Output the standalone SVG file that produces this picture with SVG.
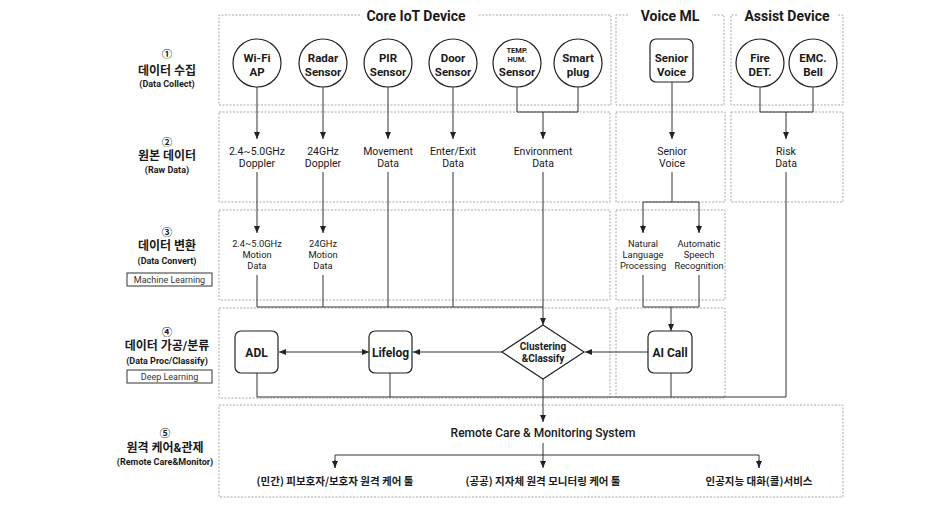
<svg xmlns="http://www.w3.org/2000/svg" width="950" height="506" viewBox="0 0 950 506">
<style>
text{font-family:Roboto,"Liberation Sans",sans-serif;fill:#1a1a1a;text-anchor:middle}
.k{font-family:"Noto Sans CJK KR","Noto Sans",sans-serif}
.lk{font-family:Roboto,"Noto Sans CJK KR",sans-serif}
.panel{fill:none;stroke:#a8a8a8;stroke-width:1;stroke-dasharray:2 1.5}
.node{fill:#fff;stroke:#222;stroke-width:1.2}
.c{fill:none;stroke:#333;stroke-width:1}
.t{font-size:14px;font-weight:bold}
.n{font-size:11.5px;font-weight:bold}
.s{font-size:7.5px;font-weight:bold}
.d2{font-size:10.5px}
.d3{font-size:9.3px}
.num{font-size:10.5px;font-weight:bold}
.kr{font-size:12px;font-weight:bold}
.en{font-size:9px;font-weight:bold}
.tag{font-size:9px;fill:#333}
.tagbox{fill:#fff;stroke:#333;stroke-width:1}
.b{font-size:12px;font-weight:bold}
.out{font-size:10.5px;font-weight:bold}
</style>
<defs>
<marker id="ar" markerWidth="7" markerHeight="6" refX="7" refY="3" orient="auto" markerUnits="userSpaceOnUse">
<path d="M0,0 L7,3 L0,6 z" fill="#222"/>
</marker>
<marker id="as" markerWidth="7" markerHeight="6" refX="0" refY="3" orient="auto" markerUnits="userSpaceOnUse">
<path d="M7,0 L0,3 L7,6 z" fill="#222"/>
</marker>
</defs>

<g id="panels">
<path class="panel" d="M360,15 H219 V105 H611 V15 H477"/>
<path class="panel" d="M628,15 H616 V105 H724 V15 H712"/>
<path class="panel" d="M737,15 H731 V105 H843 V15 H838"/>
<rect class="panel" x="219" y="112" width="391" height="90"/>
<rect class="panel" x="616" y="112" width="109" height="90"/>
<rect class="panel" x="731" y="112" width="112" height="90"/>
<rect class="panel" x="219" y="210" width="391" height="90"/>
<rect class="panel" x="616" y="210" width="109" height="90"/>
<rect class="panel" x="219" y="308" width="391" height="90"/>
<rect class="panel" x="616" y="308" width="109" height="90"/>
<rect class="panel" x="219" y="405" width="624" height="92"/>
<text class="t" x="416" y="21">Core IoT Device</text>
<text class="t" x="670" y="21">Voice ML</text>
<text class="t" x="787" y="21">Assist Device</text>
</g>

<g id="row-labels">
<text class="num lk" x="167" y="57.5">①</text>
<text class="kr lk" x="167" y="74.5">데이터 수집</text>
<text class="en" x="167" y="86.5">(Data Collect)</text>
<text class="num lk" x="167" y="145.5">②</text>
<text class="kr lk" x="167" y="160">원본 데이터</text>
<text class="en" x="167" y="172.5">(Raw Data)</text>
<text class="num lk" x="167" y="236">③</text>
<text class="kr lk" x="167" y="250">데이터 변환</text>
<text class="en" x="167" y="263.5">(Data Convert)</text>
<rect class="tagbox" x="127" y="273" width="85" height="13"/>
<text class="tag" x="169.5" y="283">Machine Learning</text>
<text class="num lk" x="167" y="336">④</text>
<text class="kr lk" x="167" y="350">데이터 가공/분류</text>
<text class="en" x="167" y="363.5">(Data Proc/Classify)</text>
<rect class="tagbox" x="127" y="370" width="85" height="13"/>
<text class="tag" x="169.5" y="380">Deep Learning</text>
<text class="num lk" x="165" y="436.5">⑤</text>
<text class="kr lk" x="165" y="452">원격 케어&amp;관제</text>
<text class="en" x="165" y="464.5">(Remote Care&amp;Monitor)</text>
</g>

<g id="connectors">
<line class="c" x1="257" y1="87" x2="257" y2="139" marker-end="url(#ar)"/>
<line class="c" x1="323" y1="87" x2="323" y2="139" marker-end="url(#ar)"/>
<line class="c" x1="388" y1="87" x2="388" y2="139" marker-end="url(#ar)"/>
<line class="c" x1="453" y1="87" x2="453" y2="139" marker-end="url(#ar)"/>
<path class="c" d="M517,87 V112 H578 V87"/>
<line class="c" x1="543" y1="112" x2="543" y2="139" marker-end="url(#ar)"/>
<line class="c" x1="672" y1="82" x2="672" y2="139" marker-end="url(#ar)"/>
<path class="c" d="M760,87 V112 H813 V87"/>
<line class="c" x1="786" y1="112" x2="786" y2="139" marker-end="url(#ar)"/>

<line class="c" x1="257" y1="172" x2="257" y2="233" marker-end="url(#ar)"/>
<line class="c" x1="323" y1="172" x2="323" y2="233" marker-end="url(#ar)"/>
<line class="c" x1="388" y1="172" x2="388" y2="307"/>
<line class="c" x1="453" y1="172" x2="453" y2="307"/>
<line class="c" x1="543" y1="172" x2="543" y2="325" marker-end="url(#ar)"/>
<path class="c" d="M672,172 V202 H643 V232"/>
<path class="c" d="M672,202 H699 V232"/>
<line class="c" x1="643" y1="225" x2="643" y2="233" marker-end="url(#ar)"/>
<line class="c" x1="699" y1="225" x2="699" y2="233" marker-end="url(#ar)"/>
<line class="c" x1="786" y1="172" x2="786" y2="397"/>

<path class="c" d="M257,275 V307 H543"/>
<line class="c" x1="323" y1="275" x2="323" y2="307"/>
<path class="c" d="M643,275 V307 H699 V275"/>
<line class="c" x1="671" y1="307" x2="671" y2="331" marker-end="url(#ar)"/>

<line class="c" x1="648" y1="352" x2="585" y2="352" marker-end="url(#ar)"/>
<line class="c" x1="502" y1="352" x2="413" y2="352" marker-end="url(#ar)"/>
<line class="c" x1="279" y1="352" x2="369" y2="352" marker-start="url(#as)" marker-end="url(#ar)"/>

<path class="c" d="M257,373 V397 H786"/>
<line class="c" x1="390" y1="373" x2="390" y2="397"/>
<line class="c" x1="671" y1="373" x2="671" y2="397"/>
<line class="c" x1="543" y1="379" x2="543" y2="422" marker-end="url(#ar)"/>

<line class="c" x1="543" y1="443" x2="543" y2="468" marker-end="url(#ar)"/>
<path class="c" d="M335,468 V455 H759 V468"/>
<line class="c" x1="335" y1="460" x2="335" y2="468" marker-end="url(#ar)"/>
<line class="c" x1="759" y1="460" x2="759" y2="468" marker-end="url(#ar)"/>
</g>

<g id="wifi-ap"><circle class="node" cx="257" cy="63" r="24"/><text class="n" x="257" y="62">Wi-Fi</text><text class="n" x="257" y="75.5">AP</text></g>
<g id="radar-sensor"><circle class="node" cx="323" cy="63" r="24"/><text class="n" x="323" y="62">Radar</text><text class="n" x="323" y="75.5">Sensor</text></g>
<g id="pir-sensor"><circle class="node" cx="388" cy="63" r="24"/><text class="n" x="388" y="62">PIR</text><text class="n" x="388" y="75.5">Sensor</text></g>
<g id="door-sensor"><circle class="node" cx="453" cy="63" r="24"/><text class="n" x="453" y="62">Door</text><text class="n" x="453" y="75.5">Sensor</text></g>
<g id="temp-hum-sensor"><circle class="node" cx="517" cy="63" r="24"/><text class="s" x="517" y="52.5">TEMP.</text><text class="s" x="517" y="62">HUM.</text><text class="n" x="517" y="76">Sensor</text></g>
<g id="smart-plug"><circle class="node" cx="578" cy="63" r="24"/><text class="n" x="578" y="62">Smart</text><text class="n" x="578" y="75.5">plug</text></g>
<g id="senior-voice-src"><rect class="node" x="650" y="39" width="43" height="43" rx="6"/><text class="n" x="671.5" y="62">Senior</text><text class="n" x="671.5" y="75.5">Voice</text></g>
<g id="fire-det"><circle class="node" cx="760" cy="63" r="24"/><text class="n" x="760" y="62">Fire</text><text class="n" x="760" y="75.5">DET.</text></g>
<g id="emc-bell"><circle class="node" cx="813" cy="63" r="24"/><text class="n" x="813" y="62">EMC.</text><text class="n" x="813" y="75.5">Bell</text></g>

<g id="raw-wifi"><text class="d2" x="257" y="154.5">2.4~5.0GHz</text><text class="d2" x="257" y="167">Doppler</text></g>
<g id="raw-radar"><text class="d2" x="323" y="154.5">24GHz</text><text class="d2" x="323" y="167">Doppler</text></g>
<g id="raw-movement"><text class="d2" x="388" y="154.5">Movement</text><text class="d2" x="388" y="167">Data</text></g>
<g id="raw-enterexit"><text class="d2" x="453" y="154.5">Enter/Exit</text><text class="d2" x="453" y="167">Data</text></g>
<g id="raw-environment"><text class="d2" x="543" y="154.5">Environment</text><text class="d2" x="543" y="167">Data</text></g>
<g id="raw-senior-voice"><text class="d2" x="672" y="154.5">Senior</text><text class="d2" x="672" y="167">Voice</text></g>
<g id="raw-risk"><text class="d2" x="786" y="154.5">Risk</text><text class="d2" x="786" y="167">Data</text></g>

<g id="motion-wifi"><text class="d3" x="257" y="246.5">2.4~5.0GHz</text><text class="d3" x="257" y="257.7">Motion</text><text class="d3" x="257" y="268.9">Data</text></g>
<g id="motion-radar"><text class="d3" x="323" y="246.5">24GHz</text><text class="d3" x="323" y="257.7">Motion</text><text class="d3" x="323" y="268.9">Data</text></g>
<g id="nlp"><text class="d3" x="643" y="246.5">Natural</text><text class="d3" x="643" y="257.7">Language</text><text class="d3" x="643" y="268.9">Processing</text></g>
<g id="asr"><text class="d3" x="699" y="246.5">Automatic</text><text class="d3" x="699" y="257.7">Speech</text><text class="d3" x="699" y="268.9">Recognition</text></g>

<g id="adl"><rect class="node" x="235" y="331" width="43" height="42" rx="6"/><text class="b" x="256.5" y="356.5">ADL</text></g>
<g id="lifelog"><rect class="node" x="369" y="331" width="43" height="42" rx="6"/><text class="b" x="390.5" y="356.5">Lifelog</text></g>
<g id="clustering"><polygon class="node" points="543,325 584,352 543,379 502,352"/><text class="n" style="font-size:10px" x="543" y="350">Clustering</text><text class="n" style="font-size:10px" x="543" y="362">&amp;Classify</text></g>
<g id="ai-call"><rect class="node" x="648" y="331" width="44" height="42" rx="6"/><text class="b" x="670" y="356.5">AI Call</text></g>

<g id="remote-system"><text style="font-size:12px;font-weight:500" x="543" y="437">Remote Care &amp; Monitoring System</text></g>
<g id="private-tool"><text class="out k" x="335" y="485">(민간) 피보호자/보호자 원격 케어 툴</text></g>
<g id="public-tool"><text class="out k" x="543" y="485">(공공) 지자체 원격 모니터링 케어 툴</text></g>
<g id="ai-service"><text class="out k" x="759" y="485">인공지능 대화(콜)서비스</text></g>
</svg>
